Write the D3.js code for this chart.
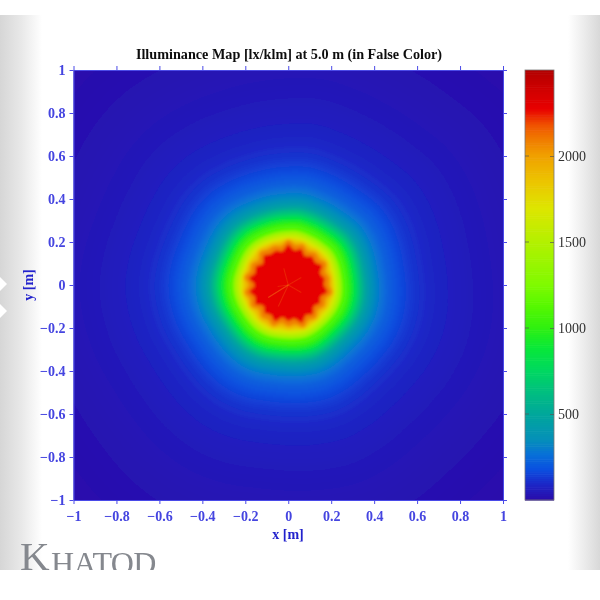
<!DOCTYPE html>
<html><head><meta charset="utf-8">
<script src="https://cdn.jsdelivr.net/npm/d3@7"></script>
<style>html,body{margin:0;padding:0;background:#fff}svg{display:block}
text{font-family:"Liberation Serif",serif}</style></head>
<body><div id="chart"></div>
<script>
const titleText = "Illuminance Map [lx/klm] at 5.0 m (in False Color)";
const xTicks = [-1,-0.8,-0.6,-0.4,-0.2,0,0.2,0.4,0.6,0.8,1];
const yTicks = [-1,-0.8,-0.6,-0.4,-0.2,0,0.2,0.4,0.6,0.8,1];
const barTicks = [500,1000,1500,2000];
// colour bar
const colorValues = [0,90,175,260,350,500,620,750,880,1000,1130,1250,1500,1690,1850,2000,2100,2180,2270,2380,2500];
const colorStops = ["#2a0cab","#1c28c8","#0a50e0","#0870d8","#0590b8","#00a89a","#00be80","#00d860","#08e838","#30f010","#58f800","#80fa00","#b4f000","#dde600","#ecc400","#f0a000","#f07800","#f05000","#e80000","#d00000","#b00000"];
// radial illuminance profile: distance from the centre [m], value [lx/klm]
const radii = [1.45,1.38,1.32,1.26,1.21,1.16,1.12,1.08,1.05,1.02,0.99,0.96,0.93,0.90,0.87,0.84,0.81,0.78,0.75,0.72,0.69,0.665,0.64,0.615,0.59,0.57,0.55,0.53,0.51,0.49,0.47,0.455,0.44,0.425,0.41,0.395,0.38,0.367,0.355,0.343,0.33,0.32,0.31,0.30,0.29,0.28,0.265,0.252,0.24,0.23,0.22,0.212,0.205,0.197,0.188,0.165];
const radiiValues = [4,7,10,13,16,19,22,25,28,31,34,37,40,43,47,52,57,62,68,75,82,90,100,112,124,138,152,168,186,206,228,252,278,308,340,378,425,480,560,640,720,800,870,940,1000,1070,1130,1390,1500,1600,1700,1800,1880,1950,2080,2280];
// direction of the map (every 10 degrees): how far the rings reach
const outlineShape = [1.0,1.01,1.0,0.995,1.0,1.015,1.01,0.995,0.985,0.99,1.0,1.005,1.0,0.99,0.99,1.005,1.015,1.005,0.995,0.995,1.01,1.015,1.005,0.99,0.985,0.995,1.005,1.01,1.0,0.99,0.995,1.01,1.015,1.005,0.995,0.995];
const coreShape = [1.14,1.0,1.08,0.95,1.05,1.0,1.1,0.96,1.04,1.01,1.12,0.97,1.03,0.94,1.07,0.99,1.13,0.97,1.02,0.93,1.09,0.98,1.03,0.92,1.07,1.0,1.11,0.95,1.12,1.0,1.05,0.94,1.08,1.01,1.03,0.97];
// thin light rays in the core: angle [deg, clockwise from up], length [m]
const rayAngles = [180,238,262,120,345,60,205];
const rayLengths = [0.09,0.11,0.05,0.07,0.08,0.07,0.11];
const rayStrength = [0.75,0.4,0.2,0.2,0.2,0.2,0.22];

const W=600,H=600,L=73.5,R=503,T=70,B=500,bL=525,bR=554;
const x=d3.scaleLinear().domain([-1,1]).range([L,R]);
const y=d3.scaleLinear().domain([-1,1]).range([B,T]);
const v=d3.scaleLinear().domain([0,2500]).range([B,T]);
const color=d3.scaleLinear().domain(colorValues).range(colorStops).clamp(true);
const fmt=d=>String(d).replace("-","\u2212");
const blue="#4a4ae8";

const svg=d3.select("#chart").append("svg").attr("width",W).attr("height",H);
const defs=svg.append("defs");
const gl=defs.append("linearGradient").attr("id","gl");
gl.append("stop").attr("offset",0).attr("stop-color","#d6d6d6");
gl.append("stop").attr("offset",0.5).attr("stop-color","#e8e8e8");
gl.append("stop").attr("offset",1).attr("stop-color","#fff");
const gr=defs.append("linearGradient").attr("id","gr");
gr.append("stop").attr("offset",0).attr("stop-color","#fff");
gr.append("stop").attr("offset",0.5).attr("stop-color","#ececec");
gr.append("stop").attr("offset",1).attr("stop-color","#d8d8d8");
defs.append("clipPath").attr("id","plot").append("rect").attr("x",L).attr("y",T).attr("width",R-L).attr("height",B-T);
defs.append("clipPath").attr("id","logo").append("rect").attr("x",0).attr("y",520).attr("width",300).attr("height",50);
const fb=defs.append("filter").attr("id","soft").attr("x","-20%").attr("y","-20%").attr("width","140%").attr("height","140%");
fb.append("feGaussianBlur").attr("stdDeviation",1.6);
const fs=defs.append("filter").attr("id","softText").attr("x","-20%").attr("y","-20%").attr("width","140%").attr("height","140%");
fs.append("feGaussianBlur").attr("stdDeviation",0.35);

svg.append("rect").attr("x",0).attr("y",15).attr("width",42).attr("height",555).attr("fill","url(#gl)");
svg.append("rect").attr("x",568).attr("y",15).attr("width",32).attr("height",555).attr("fill","url(#gr)");
[284,311].forEach(c=>svg.append("path").attr("d",`M0,${c-7}L7,${c}L0,${c+7}Z`).attr("fill","#fff"));

// map
const map=svg.append("g").attr("clip-path","url(#plot)").append("g").attr("filter","url(#soft)");
map.append("rect").attr("x",L-20).attr("y",T-20).attr("width",R-L+40).attr("height",B-T+40).attr("fill",color(0));
const cx=x(0), cy=y(0.0), perUnit=(R-L)/2;
const ring=d3.lineRadial().curve(d3.curveCatmullRomClosed.alpha(0.5));
radii.forEach((r,i)=>{
  const val=radiiValues[i];
  const w=Math.max(0,Math.min(1,(val-1700)/500));
  const pts=outlineShape.map((o,k)=>{
    const s=o*(1-w)+coreShape[k]*w;
    return [k*10*Math.PI/180, r*perUnit*s];
  });
  map.append("path").attr("transform",`translate(${cx},${cy})`).attr("d",ring(pts)).attr("fill",color(val));
});
rayAngles.forEach((a,i)=>{
  const t=a*Math.PI/180, len=rayLengths[i]*perUnit;
  svg.append("line").attr("x1",cx).attr("y1",cy)
    .attr("x2",cx+Math.sin(t)*len).attr("y2",cy-Math.cos(t)*len)
    .attr("stroke","#f8a020").attr("stroke-opacity",rayStrength[i]).attr("stroke-width",1.1).attr("filter","url(#softText)");
});

// frame and axes
const axisStyle=(g)=>{g.selectAll("line").attr("stroke",blue);g.selectAll("path").attr("stroke",blue);
  g.selectAll("text").attr("fill","#4444e0").attr("font-size",14).attr("font-weight","bold").attr("font-family",'"Liberation Serif",serif').attr("filter","url(#softText)");};
svg.append("g").attr("transform",`translate(0,${B})`).call(d3.axisBottom(x).tickValues(xTicks).tickFormat(fmt).tickSize(4).tickPadding(7).tickSizeOuter(0)).call(axisStyle);
svg.append("g").attr("transform",`translate(0,${T})`).call(d3.axisTop(x).tickValues(xTicks).tickFormat("").tickSize(4).tickSizeOuter(0)).call(axisStyle);
svg.append("g").attr("transform",`translate(${L},0)`).call(d3.axisLeft(y).tickValues(yTicks).tickFormat(fmt).tickSize(4).tickPadding(4).tickSizeOuter(0)).call(axisStyle);
svg.append("g").attr("transform",`translate(${R},0)`).call(d3.axisRight(y).tickValues(yTicks).tickFormat("").tickSize(4).tickSizeOuter(0)).call(axisStyle);

svg.append("text").attr("x",289).attr("y",59).attr("text-anchor","middle").attr("font-size",14.2).attr("font-weight","bold").attr("fill","#111").attr("filter","url(#softText)").text(titleText);
svg.append("text").attr("x",288).attr("y",539).attr("text-anchor","middle").attr("font-size",14).attr("font-weight","bold").attr("fill","#2222cc").attr("filter","url(#softText)").text("x [m]");
svg.append("text").attr("transform","translate(33,285) rotate(-90)").attr("text-anchor","middle").attr("font-size",14).attr("font-weight","bold").attr("fill","#2222cc").attr("filter","url(#softText)").text("y [m]");

// colour bar
const bar=svg.append("g");
d3.range(0,2500,12.5).forEach(d=>{
  bar.append("rect").attr("x",bL).attr("width",bR-bL).attr("y",v(d+12.5)).attr("height",v(d)-v(d+12.5)+0.6).attr("fill",color(d));
});
bar.append("rect").attr("x",bL).attr("y",T).attr("width",bR-bL).attr("height",B-T).attr("fill","none").attr("stroke","#777").attr("stroke-width",0.8);
const ba=svg.append("g").attr("transform",`translate(${bR},0)`).call(d3.axisRight(v).tickValues(barTicks).tickFormat(d3.format("d")).tickSize(-4).tickPadding(5));
ba.select("path").remove();
ba.selectAll("line").attr("stroke","#555").attr("stroke-opacity",0.7);
ba.selectAll("text").attr("fill","#333").attr("font-size",14).attr("font-family",'"Liberation Serif",serif').attr("x",4).attr("filter","url(#softText)");
barTicks.forEach(t=>svg.append("line").attr("x1",bL).attr("x2",bL+4).attr("y1",v(t)).attr("y2",v(t)).attr("stroke","#555").attr("stroke-opacity",0.7));

// logo
const logo=svg.append("g").attr("clip-path","url(#logo)").attr("filter","url(#softText)");
logo.append("text").attr("x",20).attr("y",570).attr("font-size",41).attr("fill","#85888e").text("K");
logo.append("text").attr("x",51).attr("y",574).attr("font-size",32).attr("letter-spacing",-0.6).attr("fill","#85888e").text("HATOD");
</script></body></html>
